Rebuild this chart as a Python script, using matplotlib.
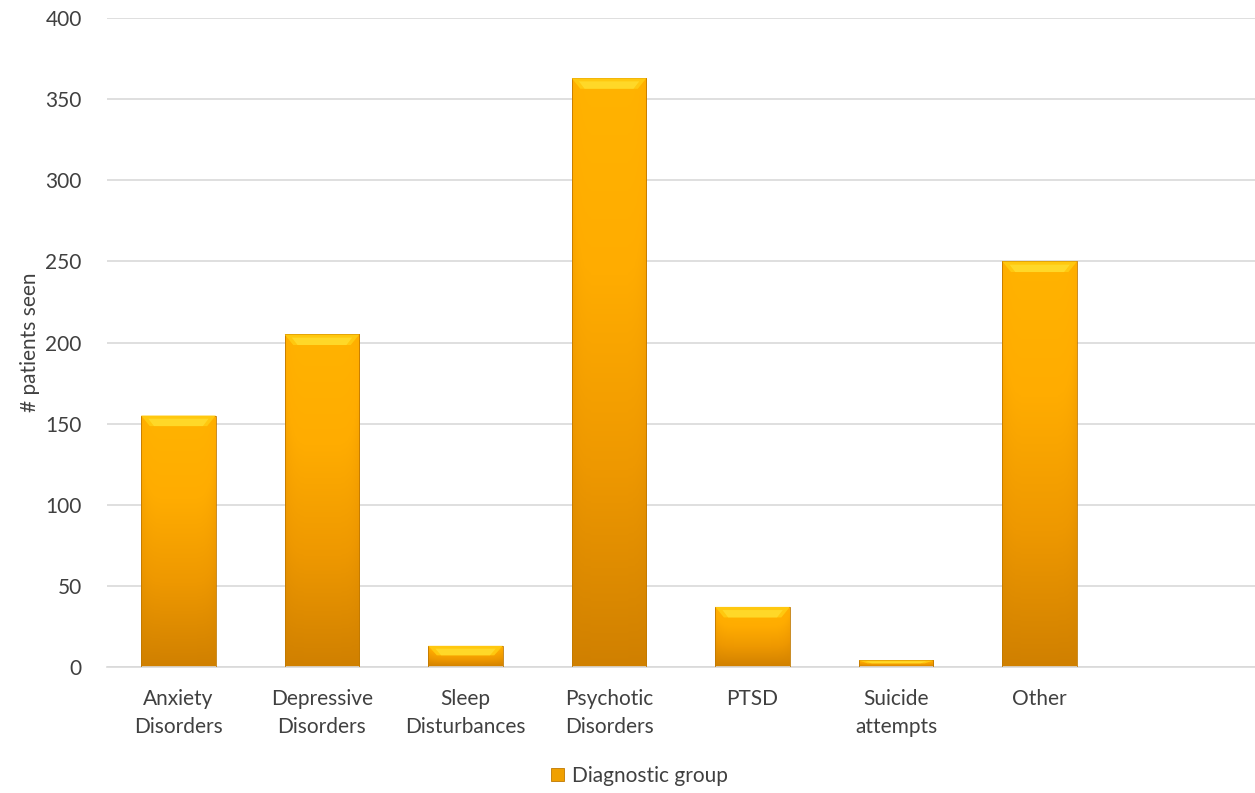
import numpy as np
import matplotlib.pyplot as plt
from matplotlib.colors import LinearSegmentedColormap
from matplotlib.patches import Rectangle, Patch

plt.rcParams['font.family'] = ['Lato', 'DejaVu Sans']

# Datos
categorias = ["Anxiety\nDisorders", "Depressive\nDisorders", "Sleep\nDisturbances",
              "Psychotic\nDisorders", "PTSD", "Suicide\nattempts", "Other", ""]
pacientes = [155, 205, 13, 363, 37, 4, 250, 0]

fig = plt.figure(figsize=(12.55, 7.93), dpi=100)
ax = fig.add_axes([0.085, 0.159, 0.915, 0.818])

x = np.arange(len(categorias))
ancho = 0.52

# degradado naranja para las barras
cmap = LinearSegmentedColormap.from_list("naranja", ["#D08000", "#EE9800", "#FFAC00", "#FFB300"])
grad = np.linspace(0, 1, 256).reshape(-1, 1)
borde = np.linspace(-1, 1, 64)
sombra = 1 - 0.25 * np.abs(borde) ** 6
img = grad * sombra[None, :]

for xi, v in zip(x, pacientes):
    if v <= 0:
        continue
    x0, x1 = xi - ancho / 2, xi + ancho / 2
    rect = Rectangle((x0, 0), ancho, v, facecolor="none", edgecolor="#C07800", lw=0.6, zorder=3)
    ax.add_patch(rect)
    im = ax.imshow(img, cmap=cmap, vmin=0, vmax=1, origin="lower", aspect="auto",
                   extent=(x0, x1, 0, v), zorder=2, interpolation="bilinear")
    im.set_clip_path(rect)
    # bisel superior
    h = min(6.5, v * 0.45)
    ax.fill([x0, x1, x1 - 0.06, x0 + 0.06], [v, v, v - h, v - h],
            color="#FFC80F", zorder=4, lw=0)
    ax.fill([x0 + 0.05, x1 - 0.05, x1 - 0.09, x0 + 0.09], [v - 0.3 * h, v - 0.3 * h, v - h, v - h],
            color="#FFE033", zorder=4, lw=0, alpha=0.7)

ax.set_xlim(-0.5, len(categorias) - 0.5)
ax.set_ylim(0, 400)
ax.set_yticks(np.arange(0, 401, 50))
ax.set_xticks(x)
ax.set_xticklabels(categorias, fontsize=15, color="#404040", linespacing=1.5)
ax.tick_params(axis="y", labelsize=15, labelcolor="#404040", length=0, pad=18)
ax.tick_params(axis="x", length=0, pad=16)
ax.grid(axis="y", color="#D9D9D9", lw=1.2, zorder=0)
ax.set_axisbelow(True)
for s in ["top", "right", "left"]:
    ax.spines[s].set_visible(False)
ax.spines["bottom"].set_color("#D9D9D9")
ax.spines["bottom"].set_linewidth(1.2)
ax.set_ylabel("# patients seen", fontsize=15, color="#404040", labelpad=4)

# leyenda
ley = ax.legend(handles=[Patch(facecolor="#F0A000", edgecolor="#C07800", lw=0.6, label="Diagnostic group")],
                loc="center", bbox_to_anchor=(0.464, -0.168), frameon=False, fontsize=15,
                handlelength=0.6, handleheight=0.6, handletextpad=0.4)
for t in ley.get_texts():
    t.set_color("#404040")

fig.savefig("out.png", dpi=100)
